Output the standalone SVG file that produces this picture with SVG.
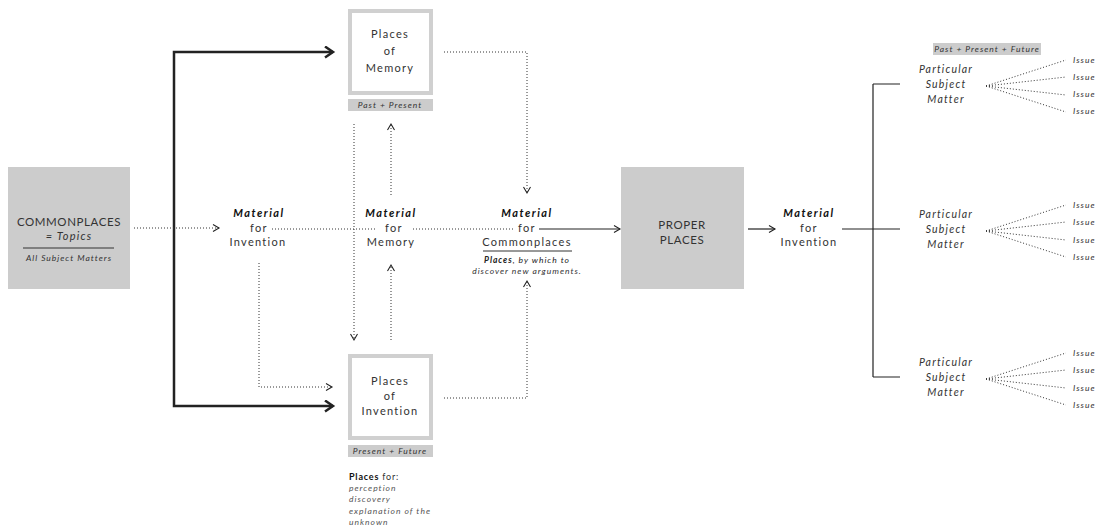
<svg xmlns="http://www.w3.org/2000/svg" width="1100" height="528" viewBox="0 0 1100 528">
<defs>
<style>
text{font-family:Lato,"Open Sans","Liberation Sans",sans-serif;fill:#333;text-anchor:middle}
.t{font-size:11px;letter-spacing:1.3px}
.b{font-size:11px;font-weight:bold;font-style:italic;letter-spacing:1.5px;fill:#111}
.i{font-size:10.5px;font-style:italic;letter-spacing:1.2px}
.s{font-size:8.5px;font-style:italic;letter-spacing:1px}
.cap{font-size:11.5px;letter-spacing:0.6px}
.gray{fill:#cccccc}
.frame{fill:#fff;stroke:#d0d0d0;stroke-width:4}
.dot{fill:none;stroke:#333;stroke-width:1;stroke-dasharray:1 2}
.sol{fill:none;stroke:#222;stroke-width:1.2}
.thick{fill:none;stroke:#222;stroke-width:2.5}
</style>
<marker id="ah" markerUnits="userSpaceOnUse" markerWidth="10" markerHeight="10" refX="7" refY="4" orient="auto"><path d="M1,0.5 L7,4 L1,7.5" fill="none" stroke="#222" stroke-width="1.1"/></marker>
<marker id="ahb" markerUnits="userSpaceOnUse" markerWidth="12" markerHeight="14" refX="9" refY="6" orient="auto"><path d="M1,0.5 L9,6 L1,11.5" fill="none" stroke="#222" stroke-width="2.5"/></marker>
</defs>

<g id="connectors">
<path class="thick" d="M174,229 V52 H333" marker-end="url(#ahb)"/>
<path class="thick" d="M174,229 V406 H333" marker-end="url(#ahb)"/>
<path class="dot" d="M134,228 H219" marker-end="url(#ah)"/>
<path class="dot" d="M272,229 H376"/>
<path class="dot" d="M413,229 H514"/>
<path class="sol" d="M539,229 H620" marker-end="url(#ah)"/>
<path class="sol" d="M748,229 H775" marker-end="url(#ah)"/>
<path class="dot" d="M354,124 V340" marker-end="url(#ah)"/>
<path class="dot" d="M391,195 V124" marker-end="url(#ah)"/>
<path class="dot" d="M391,340 V265" marker-end="url(#ah)"/>
<path class="dot" d="M259,263 V387 H332" marker-end="url(#ah)"/>
<path class="dot" d="M444,52 H527 V193" marker-end="url(#ah)"/>
<path class="dot" d="M444,398 H527 V281" marker-end="url(#ah)"/>
<path class="sol" d="M842,229 H900 M873,84 V377 M873,84 H900 M873,377 H900"/>
<path class="dot" d="M986,86 L1066,60 M986,86 L1066,77 M986,86 L1066,95 M986,86 L1066,112"/>
<path class="dot" d="M986,231 L1066,205 M986,231 L1066,222 M986,231 L1066,240 M986,231 L1066,257"/>
<path class="dot" d="M986,379 L1066,353 M986,379 L1066,370 M986,379 L1066,388 M986,379 L1066,405"/>
</g>

<g id="commonplaces">
<rect class="gray" x="8" y="167" width="122" height="122"/>
<text class="cap" x="69" y="226">COMMONPLACES</text>
<text class="i" x="69" y="240" style="font-size:11px">= Topics</text>
<line x1="23" y1="248" x2="114" y2="248" stroke="#333" stroke-width="1"/>
<text class="s" x="69" y="261">All Subject Matters</text>
</g>

<g id="material-invention">
<text class="b" x="259" y="217">Material</text>
<text class="t" x="259" y="232">for</text>
<text class="t" x="258" y="246">Invention</text>
</g>

<g id="places-memory">
<rect class="frame" x="350" y="11" width="81" height="82"/>
<text class="t" x="390" y="38">Places</text>
<text class="t" x="390" y="55">of</text>
<text class="t" x="390" y="72">Memory</text>
<rect class="gray" x="348" y="99" width="85" height="12"/>
<text class="s" x="390" y="108">Past + Present</text>
</g>

<g id="material-memory">
<text class="b" x="391" y="217">Material</text>
<text class="t" x="394" y="232">for</text>
<text class="t" x="391" y="246">Memory</text>
</g>

<g id="places-invention">
<rect class="frame" x="350" y="356" width="81" height="82"/>
<text class="t" x="390" y="385">Places</text>
<text class="t" x="390" y="400">of</text>
<text class="t" x="390" y="415">Invention</text>
<rect class="gray" x="348" y="445" width="85" height="12"/>
<text class="s" x="390" y="454">Present + Future</text>
<text x="349" y="480" style="font-size:9px;letter-spacing:0.8px;text-anchor:start"><tspan font-weight="bold" fill="#111">Places</tspan> for:</text>
<text class="s" x="349" y="491" style="text-anchor:start;fill:#555">perception</text>
<text class="s" x="349" y="502" style="text-anchor:start;fill:#555">discovery</text>
<text class="s" x="349" y="514" style="text-anchor:start;fill:#555">explanation of the</text>
<text class="s" x="349" y="525" style="text-anchor:start;fill:#555">unknown</text>
</g>

<g id="material-commonplaces">
<text class="b" x="527" y="217">Material</text>
<text class="t" x="527" y="232">for</text>
<text class="t" x="527" y="246">Commonplaces</text>
<line x1="483" y1="251" x2="572" y2="251" stroke="#333" stroke-width="1"/>
<text class="s" x="527" y="263" style="font-weight:bold;fill:#222">Places<tspan font-weight="normal">, by which to</tspan></text>
<text class="s" x="527" y="274">discover new arguments.</text>
</g>

<g id="proper-places">
<rect class="gray" x="621" y="167" width="123" height="122"/>
<text class="cap" x="682" y="229">PROPER</text>
<text class="cap" x="682" y="244">PLACES</text>
</g>

<g id="material-invention-2">
<text class="b" x="809" y="217">Material</text>
<text class="t" x="809" y="232">for</text>
<text class="t" x="809" y="246">Invention</text>
</g>

<g id="time-label">
<rect class="gray" x="933" y="43" width="108" height="12"/>
<text class="s" x="987" y="52">Past + Present + Future</text>
</g>

<g id="subject-1">
<text class="i" x="946" y="73">Particular</text>
<text class="i" x="946" y="88">Subject</text>
<text class="i" x="946" y="103">Matter</text>
<text class="s" x="1073" y="63" style="text-anchor:start">Issue</text>
<text class="s" x="1073" y="80" style="text-anchor:start">Issue</text>
<text class="s" x="1073" y="97" style="text-anchor:start">Issue</text>
<text class="s" x="1073" y="114" style="text-anchor:start">Issue</text>
</g>

<g id="subject-2">
<text class="i" x="946" y="218">Particular</text>
<text class="i" x="946" y="233">Subject</text>
<text class="i" x="946" y="248">Matter</text>
<text class="s" x="1073" y="208" style="text-anchor:start">Issue</text>
<text class="s" x="1073" y="225" style="text-anchor:start">Issue</text>
<text class="s" x="1073" y="243" style="text-anchor:start">Issue</text>
<text class="s" x="1073" y="260" style="text-anchor:start">Issue</text>
</g>

<g id="subject-3">
<text class="i" x="946" y="366">Particular</text>
<text class="i" x="946" y="381">Subject</text>
<text class="i" x="946" y="396">Matter</text>
<text class="s" x="1073" y="356" style="text-anchor:start">Issue</text>
<text class="s" x="1073" y="373" style="text-anchor:start">Issue</text>
<text class="s" x="1073" y="391" style="text-anchor:start">Issue</text>
<text class="s" x="1073" y="408" style="text-anchor:start">Issue</text>
</g>
</svg>
